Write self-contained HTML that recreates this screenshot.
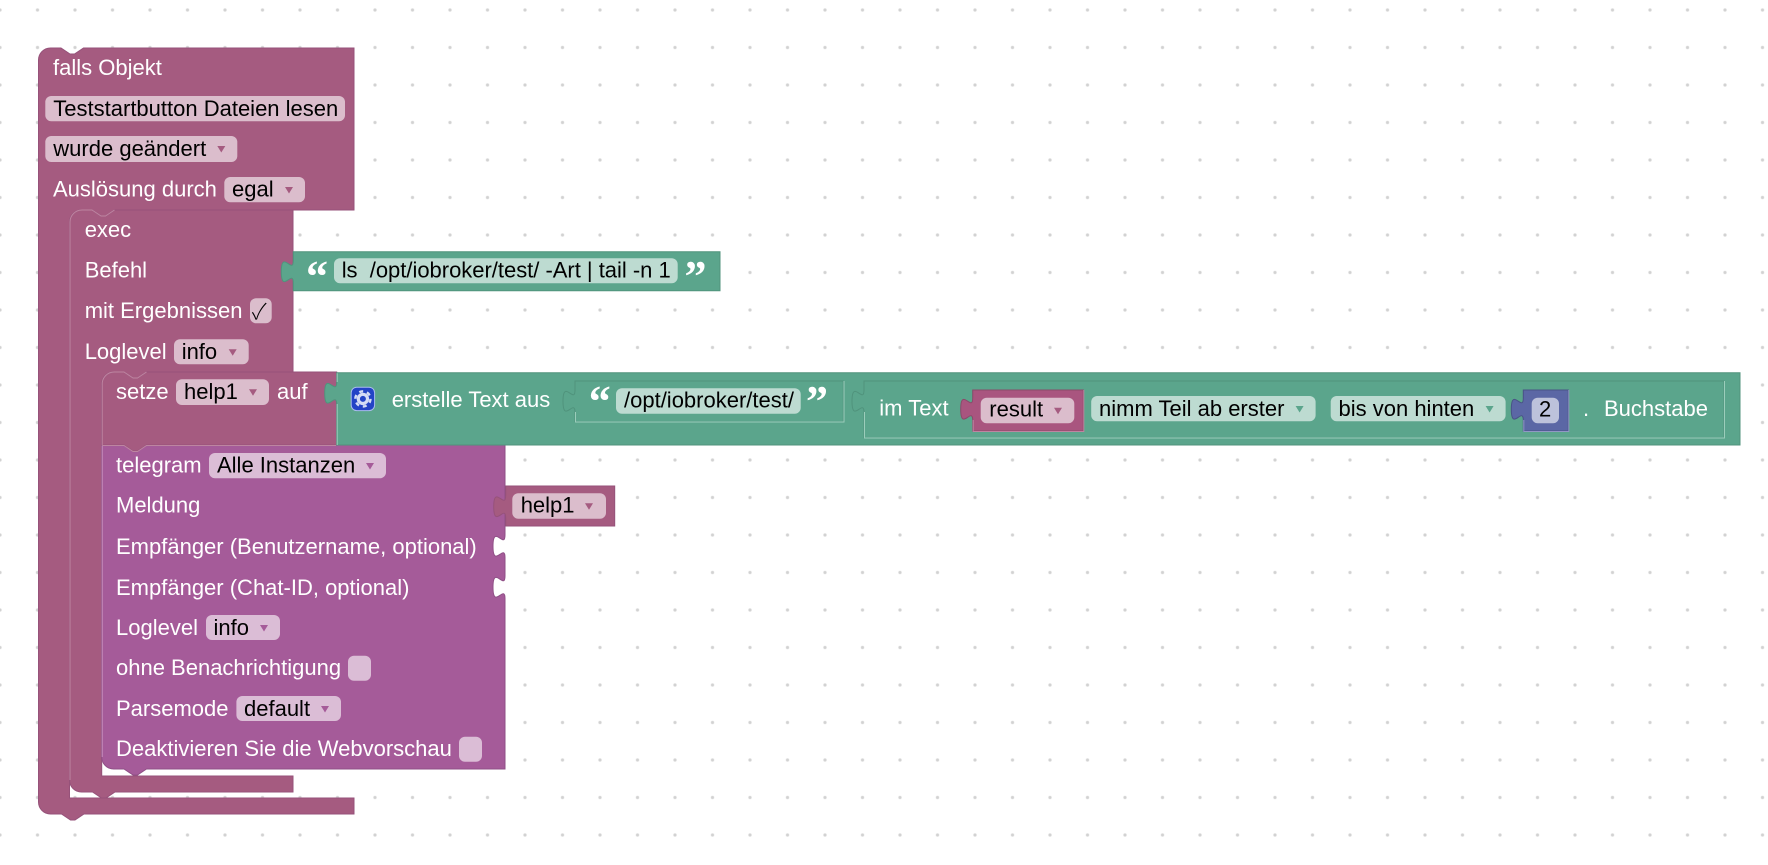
<!DOCTYPE html>
<html><head><meta charset="utf-8"><style>
html,body{margin:0;padding:0;background:#fff;width:1768px;height:865px;overflow:hidden}
svg{display:block}
text{font-family:"Liberation Sans",Arial,sans-serif;font-size:22px}
.w{fill:#fff}.k{fill:#000}
.q{font-family:"Liberation Serif",serif;font-weight:bold;font-size:44px;fill:#fff}
.m{fill:#a55b80;stroke:#96527a;stroke-width:1}
.p{fill:#a55b99;stroke:#8f4f86;stroke-width:1}
.g{fill:#5ba58c;stroke:#50937c;stroke-width:1}
.h{fill:none;stroke:#bd85a1;stroke-width:1}
.hp{fill:none;stroke:#c590bd;stroke-width:1}
.hg{fill:none;stroke:#9bcdbb;stroke-width:1}
.fm{fill:#dbbdcc}.fp{fill:#dbbdd6}.fg{fill:#bddbd1}
.am{fill:#a55b80}.ap{fill:#a55b99}.ag{fill:#5ba58c}
</style></head><body>
<svg width="1768" height="865" viewBox="0 0 1768 865" xmlns="http://www.w3.org/2000/svg">
<defs><pattern id="d" patternUnits="userSpaceOnUse" x="-18.75" y="-8.75" width="37.5" height="37.5"><circle cx="18.75" cy="18.75" r="1.6" fill="#d2d2d2"/></pattern></defs>
<rect width="1768" height="865" fill="#fff"/>
<rect width="1768" height="865" fill="url(#d)"/>

<!-- outer -->
<path class="m" d="M38.5,60a12,12 0 0 1 12,-12H61l9,6 4.5,0 9,-6H354V210H69.5V798H354V814H84l-9,6 -4.5,0 -9,-6H50.5a12,12 0 0 1 -12,-12Z"/>
<!-- filler behind exec corner and notch -->
<rect x="69" y="208" width="49" height="15" fill="#a55b80"/>
<!-- exec -->
<path class="m" d="M69.5,222a12,12 0 0 1 12,-12H92l9,6 4.5,0 9,-6H293V372H101.7V776H293V792H115l-9,6 -4.5,0 -9,-6H81.5a12,12 0 0 1 -12,-12Z"/>
<path class="h" d="M70,780V222a12,12 0 0 1 12,-12H92l9,6 4.5,0 9,-6"/>
<!-- filler behind setze corner and notch -->
<rect x="101" y="370" width="49" height="15" fill="#a55b80"/>
<!-- telegram -->
<path class="p" d="M101.7,445H124l9,6 4.5,0 9,-6H505V535c0,15 -12,-12 -12,11.25s12,-3.75 12,11.25V576c0,15 -12,-12 -12,11.25s12,-3.75 12,11.25V769H146.5l-9,6 -4.5,0 -9,-6H113.7a12,12 0 0 1 -12,-12Z"/>
<path class="hp" d="M102.2,757V445.5"/>
<!-- setze -->
<path class="m" d="M101.7,384a12,12 0 0 1 12,-12H124l9,6 4.5,0 9,-6H336.7V445H146.5l-9,6 -4.5,0 -9,-6H101.7Z"/>
<path class="h" d="M102.2,445V384a12,12 0 0 1 12,-12H124l9,6 4.5,0 9,-6M102.2,445.5H124l9,6 4.5,0 9,-6H336"/>
<!-- green big -->
<path class="g" d="M336.7,372.7H1740V445H336.7V404.5c0,-15 -12,12 -12,-11.25s12,3.75 12,-11.25Z"/>
<path class="hg" d="M337.2,382V373.2M337.2,404V445"/>
<!-- ls block -->
<path class="g" d="M293.3,251.7H720V290.7H293.3V283c0,-15 -12,12 -12,-11.25s12,3.75 12,-11.25Z"/>
<!-- help1 var -->
<path class="m" d="M505.7,486H614.7V526H505.7V518c0,-15 -12,12 -12,-11.25s12,3.75 12,-11.25Z"/>
<!-- inner text -->
<path class="g" d="M575,381H843.3V421.7H575V412.5c0,-15 -12,12 -12,-11.25s12,3.75 12,-11.25Z"/>
<path class="hg" d="M575.5,412V422H844V381"/>
<!-- substring -->
<path class="g" d="M864,381H1724V437.7H864V412.5c0,-15 -12,12 -12,-11.25s12,3.75 12,-11.25Z"/>
<path class="hg" d="M864.5,412V438H1724.5V381"/>
<!-- result -->
<path fill="#a9557f" stroke="#8a4a6a" d="M972.7,390H1083.3V431H972.7V420.5c0,-15 -12,12 -12,-11.25s12,3.75 12,-11.25Z"/>
<path class="h" d="M973.2,420V431.5H1083.8V390"/>
<!-- number -->
<path fill="#5b67a5" stroke="#495386" d="M1523.3,390H1568.3V431H1523.3V420.5c0,-15 -12,12 -12,-11.25s12,3.75 12,-11.25Z"/>
<path fill="none" stroke="#8f98c4" d="M1523.8,420V431.5H1568.8V390"/>

<!-- fields -->
<g class="fm">
<rect x="45.3" y="96" width="299.7" height="25.3" rx="6"/>
<rect x="45.3" y="136" width="192" height="26" rx="6"/>
<rect x="224.3" y="177" width="80.7" height="25.3" rx="6"/>
<rect x="250" y="298.3" width="21.7" height="25" rx="6"/>
<rect x="174" y="339.3" width="74.7" height="25" rx="6"/>
<rect x="176" y="379.3" width="93" height="25.7" rx="6"/>
<rect x="512.3" y="493.3" width="93.7" height="25.4" rx="6"/>
<rect x="980.7" y="397.7" width="93.6" height="25.6" rx="6"/>
</g>
<g class="fp">
<rect x="209" y="453" width="177" height="25.3" rx="6"/>
<rect x="206" y="615" width="74" height="25" rx="6"/>
<rect x="348" y="655.7" width="23" height="25" rx="6"/>
<rect x="236.4" y="696" width="104.6" height="25" rx="6"/>
<rect x="459" y="736.7" width="23" height="25" rx="6"/>
</g>
<g class="fg">
<rect x="334" y="258.3" width="343.7" height="25" rx="6"/>
<rect x="616" y="388.3" width="184.7" height="25.4" rx="6"/>
<rect x="1091.2" y="396" width="224.4" height="25.3" rx="6"/>
<rect x="1330.7" y="396" width="174.9" height="25.3" rx="6"/>
</g>
<rect x="1531.7" y="397.7" width="27.3" height="25.6" rx="6" fill="#bdc2db"/>

<!-- arrows -->
<g class="am">
<polygon points="217.3,146 225.3,146 221.3,152.5"/>
<polygon points="285,187 293,187 289,193.5"/>
<polygon points="228.7,349.3 236.7,349.3 232.7,355.8"/>
<polygon points="249,389.3 257,389.3 253,395.8"/>
<polygon points="585,503.3 593,503.3 589,509.8"/>
<polygon points="1054,407.7 1062,407.7 1058,414.2"/>
</g>
<g class="ap">
<polygon points="366,463 374,463 370,469.5"/>
<polygon points="260,625 268,625 264,631.5"/>
<polygon points="321,706 329,706 325,712.5"/>
</g>
<g class="ag">
<polygon points="1295.6,406 1303.6,406 1299.6,412.5"/>
<polygon points="1485.6,406 1493.6,406 1489.6,412.5"/>
</g>

<!-- gear -->
<rect x="351.2" y="387.2" width="23.4" height="23.4" rx="5.5" fill="#2343c6" stroke="#a9bcec" stroke-width="1"/>
<circle cx="362.9" cy="398.9" r="7.6" fill="none" stroke="#d5dcf5" stroke-width="2.4" stroke-dasharray="4 3.96"/>
<circle cx="362.9" cy="398.9" r="4.6" fill="none" stroke="#d5dcf5" stroke-width="3.2"/>

<!-- labels -->
<text class="w" x="53" y="75">falls Objekt</text>
<text class="k" x="53.3" y="116">Teststartbutton Dateien lesen</text>
<text class="k" x="53.3" y="156">wurde geändert</text>
<text class="w" x="53" y="196.7">Auslösung durch</text>
<text class="k" x="232" y="196.7">egal</text>
<text class="w" x="84.7" y="237">exec</text>
<text class="w" x="84.7" y="277.7">Befehl</text>
<text class="w" x="84.7" y="318">mit Ergebnissen</text>
<text x="252" y="319" style="font-family:'Noto Sans CJK JP',sans-serif;font-weight:300" class="k">✓</text>
<text class="w" x="84.7" y="359">Loglevel</text>
<text class="k" x="181.7" y="359">info</text>
<text class="w" x="116" y="399">setze</text>
<text class="k" x="184" y="399">help1</text>
<text class="w" x="277" y="399">auf</text>
<text class="w" x="391.7" y="407">erstelle Text aus</text>
<text class="w" x="116" y="472.7">telegram</text>
<text class="k" x="217" y="472.7">Alle Instanzen</text>
<text class="w" x="116" y="512.7">Meldung</text>
<text class="k" x="520.7" y="512.7">help1</text>
<text class="w" x="116" y="554">Empfänger (Benutzername, optional)</text>
<text class="w" x="116" y="595">Empfänger (Chat-ID, optional)</text>
<text class="w" x="116" y="635">Loglevel</text>
<text class="k" x="213.5" y="635">info</text>
<text class="w" x="116" y="675">ohne Benachrichtigung</text>
<text class="w" x="116" y="716">Parsemode</text>
<text class="k" x="244" y="716">default</text>
<text class="w" x="116" y="756">Deaktivieren Sie die Webvorschau</text>
<text class="k" x="341.7" y="277.7" xml:space="preserve" textLength="329" lengthAdjust="spacing">ls  /opt/iobroker/test/ -Art | tail -n 1</text>
<text class="k" x="624" y="407.7">/opt/iobroker/test/</text>
<text class="w" x="879.3" y="415.7">im Text</text>
<text class="k" x="989.3" y="416.3">result</text>
<text class="k" x="1099" y="416">nimm Teil ab erster</text>
<text class="k" x="1338.5" y="416">bis von hinten</text>
<text class="k" x="1539" y="416.3">2</text>
<text class="w" x="1583" y="416">.</text>
<text class="w" x="1604" y="416">Buchstabe</text>

<!-- quotes -->
<text class="q" x="306" y="291">“</text>
<text class="q" x="684.5" y="291">”</text>
<text class="q" x="588.7" y="416">“</text>
<text class="q" x="806" y="416">”</text>
</svg>
</body></html>
